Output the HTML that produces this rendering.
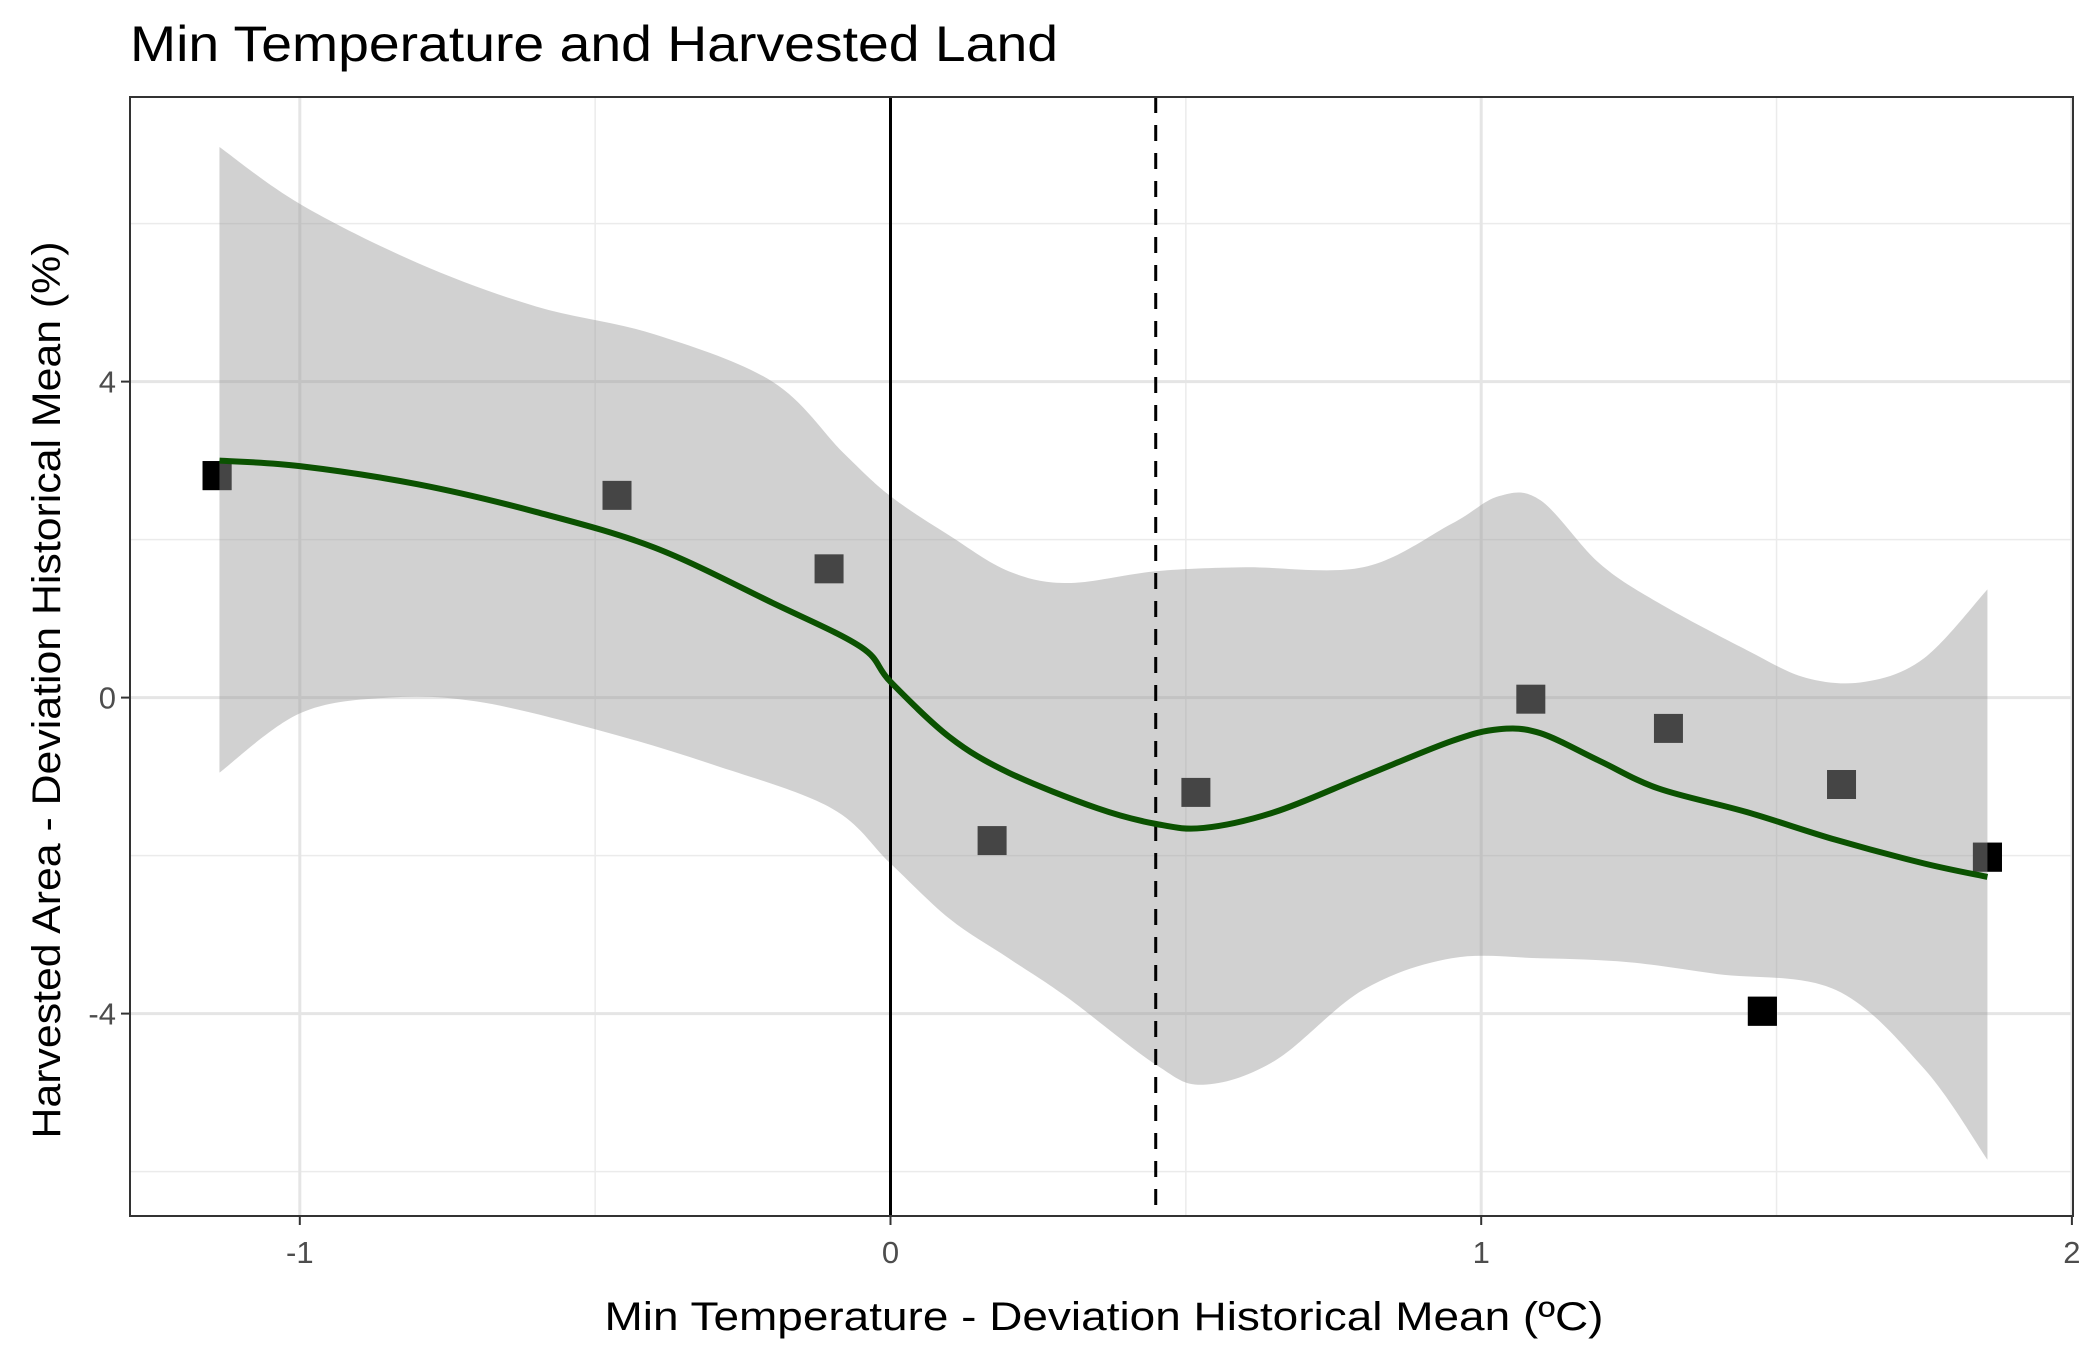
<!DOCTYPE html>
<html><head><meta charset="utf-8"><style>
html,body{margin:0;padding:0;background:#fff;}
svg{display:block;font-family:"Liberation Sans",Arial,sans-serif;}
</style></head><body>
<svg id="chart" width="2100" height="1350" viewBox="0 0 2100 1350" xmlns="http://www.w3.org/2000/svg">
<rect x="0" y="0" width="2100" height="1350" fill="#fff"/>
<text x="130" y="61" font-size="50" fill="#000" textLength="928" lengthAdjust="spacingAndGlyphs">Min Temperature and Harvested Land</text>
<g id="grid"></g>
<g id="points"></g>
<g id="ribbon"></g>
<g id="refs"></g>
<g id="fit"></g>
<rect x="130" y="97" width="1943" height="1119" fill="none" stroke="#333" stroke-width="2"/>
<g id="axes"></g>
<text x="1104" y="1330" font-size="40" text-anchor="middle" textLength="999" lengthAdjust="spacingAndGlyphs">Min Temperature - Deviation Historical Mean (ºC)</text>
<text transform="translate(60,690) rotate(-90)" font-size="40" text-anchor="middle" textLength="897" lengthAdjust="spacingAndGlyphs">Harvested Area - Deviation Historical Mean (%)</text>
</svg>
<script>
const xTicks = [-1, 0, 1, 2];
const xMinor = [-0.5, 0.5, 1.5];
const yTicks = [-4, 0, 4];
const yMinor = [-6, -2, 2, 6];
const ptX = [-1.14, -1.14, -0.463, -0.104, 0.172, 0.517, 1.084, 1.317, 1.476, 1.476, 1.61, 1.857, 1.857];
const ptY = [2.81, 2.81, 2.56, 1.63, -1.81, -1.20, -0.02, -0.39, -3.97, -3.97, -1.10, -2.02, -2.02];
const fitX = [-1.136, -1.0, -0.8, -0.6, -0.4, -0.2, -0.05, 0, 0.1, 0.2, 0.35, 0.45, 0.53, 0.65, 0.8, 0.95, 1.03, 1.1, 1.2, 1.3, 1.45, 1.6, 1.75, 1.857];
const fitY = [3.0, 2.93, 2.7, 2.35, 1.9, 1.2, 0.64, 0.2, -0.5, -0.95, -1.4, -1.6, -1.65, -1.45, -1.0, -0.55, -0.4, -0.45, -0.8, -1.15, -1.45, -1.8, -2.1, -2.27];
const upX = [-1.136, -1.0, -0.8, -0.6, -0.4, -0.2, -0.08, 0, 0.1, 0.2, 0.3, 0.45, 0.6, 0.8, 0.95, 1.03, 1.1, 1.2, 1.3, 1.45, 1.55, 1.65, 1.75, 1.857];
const upY = [6.97, 6.25, 5.5, 4.95, 4.6, 4.0, 3.1, 2.55, 2.05, 1.6, 1.45, 1.6, 1.65, 1.65, 2.2, 2.55, 2.5, 1.7, 1.2, 0.6, 0.25, 0.2, 0.5, 1.37];
const loX = [-1.136, -1.0, -0.85, -0.7, -0.5, -0.3, -0.1, 0, 0.1, 0.2, 0.3, 0.45, 0.53, 0.65, 0.8, 0.95, 1.1, 1.25, 1.4, 1.6, 1.75, 1.857];
const loY = [-0.95, -0.2, 0.0, -0.05, -0.4, -0.85, -1.4, -2.1, -2.8, -3.3, -3.8, -4.65, -4.9, -4.6, -3.7, -3.3, -3.3, -3.35, -3.5, -3.7, -4.7, -5.85];
const vLine = 0;
const dashLine = 0.449;

const NS = "http://www.w3.org/2000/svg";
const L = 130, R = 2073, T = 97, B = 1216;
const X0 = 890.5, XU = 590.7, Y0 = 697.6, YU = 79.0;
function sx(v){ return X0 + v*XU; }
function sy(v){ return Y0 - v*YU; }
function mk(tag, attrs, parent){
  const e = document.createElementNS(NS, tag);
  for (const k in attrs) e.setAttribute(k, attrs[k]);
  parent.appendChild(e);
  return e;
}
function smooth(xs, ys){
  const p = xs.map((x,i)=>[sx(x), sy(ys[i])]);
  let d = "M" + p[0][0] + "," + p[0][1];
  for (let i=0;i<p.length-1;i++){
    const p0 = p[i-1]||p[i], p1=p[i], p2=p[i+1], p3=p[i+2]||p2;
    const c1 = [p1[0]+(p2[0]-p0[0])/6, p1[1]+(p2[1]-p0[1])/6];
    const c2 = [p2[0]-(p3[0]-p1[0])/6, p2[1]-(p3[1]-p1[1])/6];
    d += " C"+c1[0]+","+c1[1]+" "+c2[0]+","+c2[1]+" "+p2[0]+","+p2[1];
  }
  return d;
}
const grid = document.getElementById("grid");
xMinor.forEach(v=>{
  const e = mk("line",{x1:sx(v),x2:sx(v),y1:T,y2:B,stroke:"#ebebeb","stroke-width":1.5},grid);
  
  
});
yMinor.forEach(v=>{
  const e = mk("line",{x1:L,x2:R,y1:sy(v),y2:sy(v),stroke:"#ebebeb","stroke-width":1.5},grid);
  
  
});
xTicks.forEach(v=>{
  const e = mk("line",{x1:sx(v),x2:sx(v),y1:T,y2:B,stroke:"#e5e5e5","stroke-width":3},grid);
  
  
});
yTicks.forEach(v=>{
  const e = mk("line",{x1:L,x2:R,y1:sy(v),y2:sy(v),stroke:"#e5e5e5","stroke-width":3},grid);
  
  
});
const pts = document.getElementById("points");
ptX.forEach((x,i)=>{
  const e = mk("rect",{x:sx(x)-14.5,y:sy(ptY[i])-14.5,width:29,height:29,fill:"#000"},pts);
  
  
});
const rib = document.getElementById("ribbon");
const up = smooth(upX, upY);
const loRevX = loX.slice().reverse(), loRevY = loY.slice().reverse();
const lo = smooth(loRevX, loRevY).replace(/^M/, "L");
const band = mk("path",{d: up+" "+lo+" Z", fill:"#999999","fill-opacity":0.45},rib);


const refs = document.getElementById("refs");
const v1 = mk("line",{x1:sx(vLine),x2:sx(vLine),y1:T,y2:B,stroke:"#000","stroke-width":3},refs);


const v2 = mk("line",{x1:sx(dashLine),x2:sx(dashLine),y1:T,y2:B,stroke:"#000","stroke-width":3,"stroke-dasharray":"16,12"},refs);


const fit = document.getElementById("fit");
const fl = mk("path",{d:smooth(fitX,fitY),fill:"none",stroke:"#0b5201","stroke-width":6,"stroke-linejoin":"round"},fit);


const axes = document.getElementById("axes");
xTicks.forEach(v=>{
  const t = mk("line",{x1:sx(v),x2:sx(v),y1:B,y2:B+9,stroke:"#333","stroke-width":2},axes);
  
  
  const l = mk("text",{x:sx(v),y:1263,"font-size":31,fill:"#4d4d4d","text-anchor":"middle"},axes);
  l.textContent = String(v);
  
  
});
yTicks.forEach(v=>{
  const t = mk("line",{x1:L-9,x2:L,y1:sy(v),y2:sy(v),stroke:"#333","stroke-width":2},axes);
  
  
  const l = mk("text",{x:L-14,y:sy(v)+11,"font-size":31,fill:"#4d4d4d","text-anchor":"end"},axes);
  l.textContent = String(v);
  
  
});
</script>
</body></html>
